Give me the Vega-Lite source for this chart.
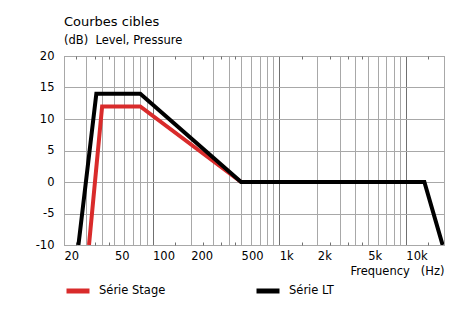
{
  "$schema": "https://vega.github.io/schema/vega-lite/v6.json",
  "width": 380,
  "height": 189,
  "autosize": "none",
  "padding": {"left": 64, "top": 56, "right": 22, "bottom": 76},
  "background": "white",
  "config": {"font": "DejaVu Sans", "view": {"stroke": "#888888", "strokeWidth": 1}},
  "title": {
    "text": "Courbes cibles",
    "subtitle": "(dB)\u00a0 Level, Pressure",
    "anchor": "start",
    "frame": "group",
    "fontSize": 13,
    "fontWeight": "normal",
    "color": "black",
    "subtitleFontSize": 11.5,
    "subtitleColor": "black",
    "subtitlePadding": 6,
    "offset": 4
  },
  "datasets": {
    "curves": [
      {"serie": "Série Stage", "f": 31.5, "db": -10},
      {"serie": "Série Stage", "f": 40, "db": 12},
      {"serie": "Série Stage", "f": 80, "db": 12},
      {"serie": "Série Stage", "f": 500, "db": 0},
      {"serie": "Série LT", "f": 26, "db": -10},
      {"serie": "Série LT", "f": 36, "db": 14},
      {"serie": "Série LT", "f": 80, "db": 14},
      {"serie": "Série LT", "f": 500, "db": 0},
      {"serie": "Série LT", "f": 14000, "db": 0},
      {"serie": "Série LT", "f": 19500, "db": -10}
    ]
  },
  "data": {"name": "curves"},
  "resolve": {"axis": {"x": "independent", "y": "independent"}},
  "layer": [
    {
      "transform": [{"filter": "datum.serie == 'Série Stage'"}],
      "mark": {"type": "line", "strokeWidth": 4, "clip": true, "strokeJoin": "miter"},
      "encoding": {
        "x": {
          "field": "f", "type": "quantitative",
          "scale": {"type": "log", "domain": [20, 20000], "nice": false},
          "axis": {
            "orient": "bottom",
            "values": [20, 30, 40, 50, 60, 70, 80, 90, 100, 200, 300, 400, 500, 600, 700, 800, 900, 1000, 2000, 3000, 4000, 5000, 6000, 7000, 8000, 9000, 10000, 20000],
            "grid": true,
            "gridColor": {"condition": {"test": "datum.value == 100 || datum.value == 1000 || datum.value == 10000", "value": "#707070"}, "value": "#a8a8a8"},
            "gridOpacity": 1,
            "ticks": false,
            "domain": false,
            "labelExpr": "indexof([20, 50, 100, 200, 500, 1000, 2000, 5000, 10000], datum.value) >= 0 ? (datum.value >= 1000 ? (datum.value / 1000) + 'k' : datum.value + '') : ''",
            "labelAlign": "left",
            "labelPadding": 5,
            "labelFontSize": 11.5,
            "labelColor": "black",
            "labelOverlap": false,
            "labelFlush": false,
            "title": "Frequency\u00a0\u00a0 (Hz)",
            "titleFontSize": 11.5,
            "titleFontWeight": "normal",
            "titleColor": "black",
            "titleAlign": "right",
            "titleAnchor": "end",
            "titleX": 380,
            "titleY": 20
          }
        },
        "y": {
          "field": "db", "type": "quantitative",
          "scale": {"domain": [-10, 20], "nice": false, "zero": false},
          "axis": {
            "values": [-10, -5, 0, 5, 10, 15, 20],
            "grid": true,
            "gridColor": "#a8a8a8",
            "gridOpacity": 1,
            "ticks": false,
            "domain": false,
            "labelExpr": "datum.value + ''",
            "labelPadding": 10,
            "labelFontSize": 11.5,
            "labelColor": "black",
            "title": null
          }
        },
        "color": {
          "field": "serie", "type": "nominal",
          "scale": {"domain": ["Série Stage", "Série LT"], "range": ["#d92b2b", "#000000"]},
          "legend": {
            "orient": "none",
            "direction": "horizontal",
            "legendX": 0,
            "legendY": 221,
            "title": null,
            "symbolType": "stroke",
            "symbolSize": 529,
            "symbolStrokeWidth": 5,
            "labelFontSize": 11.5,
            "labelColor": "black",
            "labelOffset": 7,
            "columnPadding": 80
          }
        }
      }
    },
    {
      "transform": [{"filter": "datum.serie == 'Série LT'"}],
      "mark": {"type": "line", "strokeWidth": 4, "clip": true, "strokeJoin": "miter"},
      "encoding": {
        "x": {
          "field": "f", "type": "quantitative",
          "axis": {
            "orient": "bottom",
            "values": [25, 35, 45, 150, 250, 350, 450, 1500, 2500, 3500, 4500, 15000],
            "grid": false,
            "ticks": true,
            "tickSize": -3,
            "tickColor": "#707070",
            "domain": false,
            "labels": false,
            "title": null
          }
        },
        "y": {"field": "db", "type": "quantitative", "axis": null},
        "color": {"field": "serie", "type": "nominal"}
      }
    },
    {
      "transform": [{"filter": "datum.serie == 'Série LT'"}],
      "mark": {"type": "line", "opacity": 0, "clip": true},
      "encoding": {
        "x": {
          "field": "f", "type": "quantitative",
          "axis": {
            "orient": "top",
            "values": [25, 35, 45, 150, 250, 350, 450, 1500, 2500, 3500, 4500, 15000],
            "grid": false,
            "ticks": true,
            "tickSize": -3,
            "tickColor": "#707070",
            "domain": false,
            "labels": false,
            "title": null
          }
        },
        "y": {"field": "db", "type": "quantitative", "axis": null}
      }
    }
  ]
}
